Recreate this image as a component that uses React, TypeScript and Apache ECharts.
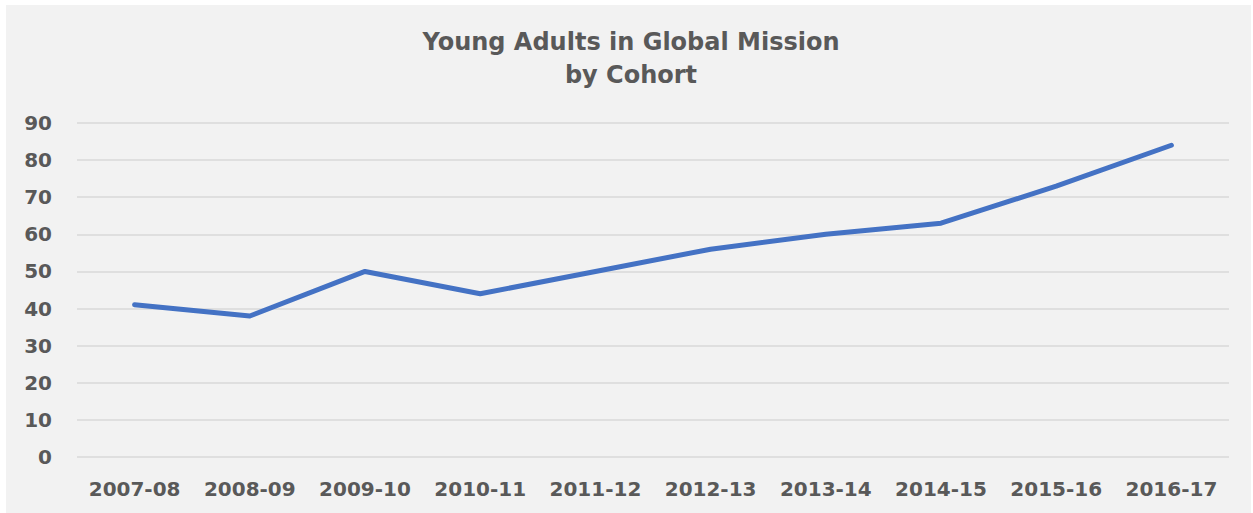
import React, { useEffect, useRef } from "react";
import * as echarts from "echarts";

const categories = ["2007-08", "2008-09", "2009-10", "2010-11", "2011-12", "2012-13", "2013-14", "2014-15", "2015-16", "2016-17"];
const values = [41, 38, 50, 44, 50, 56, 60, 63, 73, 84];
const titleLines = ["Young Adults in Global Mission", "by Cohort"];

export default function App() {
  const ref = useRef<HTMLDivElement>(null);
  useEffect(() => {
    document.body.style.margin = "0";
    const chart = echarts.init(ref.current!, null, { renderer: "svg" });
    chart.setOption({
      animation: false,
      backgroundColor: "#ffffff",
      graphic: [
        { type: "rect", shape: { x: 6, y: 5, width: 1245, height: 508 }, style: { fill: "#f2f2f2" }, z: -10 },
        {
          type: "text",
          x: 631,
          y: 42,
          style: { text: titleLines[0], fontFamily: "DejaVu Sans", fontWeight: "bold", fontSize: 24, fill: "#595959", textAlign: "center", textVerticalAlign: "middle" },
        },
        {
          type: "text",
          x: 631,
          y: 75,
          style: { text: titleLines[1], fontFamily: "DejaVu Sans", fontWeight: "bold", fontSize: 24, fill: "#595959", textAlign: "center", textVerticalAlign: "middle" },
        },
      ],
      grid: { left: 77, right: 24, top: 123, bottom: 56 },
      xAxis: {
        type: "category",
        data: categories,
        boundaryGap: true,
        axisLine: { show: false },
        axisTick: { show: false },
        axisLabel: { color: "#595959", fontFamily: "DejaVu Sans", fontWeight: "bold", fontSize: 20, margin: 22, interval: 0 },
      },
      yAxis: {
        type: "value",
        min: 0,
        max: 90,
        interval: 10,
        axisLine: { show: false },
        axisTick: { show: false },
        axisLabel: { color: "#595959", fontFamily: "DejaVu Sans", fontWeight: "bold", fontSize: 20, margin: 25 },
        splitLine: { lineStyle: { color: "#d9d9d9", width: 1.5 } },
      },
      series: [
        {
          type: "line",
          data: values,
          symbol: "none",
          lineStyle: { color: "#4472c4", width: 5, cap: "round", join: "round" },
        },
      ],
    });
    return () => chart.dispose();
  }, []);
  return <div ref={ref} style={{ width: 1253, height: 513 }} />;
}
